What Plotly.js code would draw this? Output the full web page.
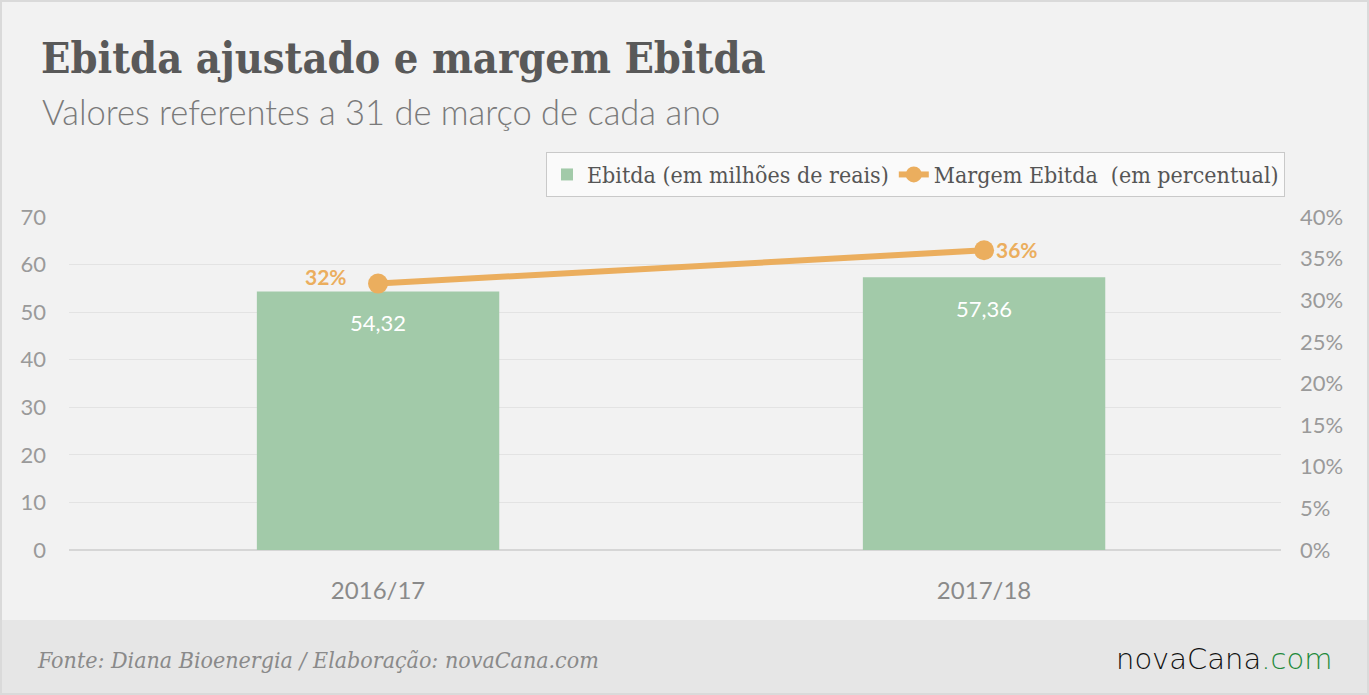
<!DOCTYPE html>
<html>
<head>
<meta charset="utf-8">
<script src="https://cdn.plot.ly/plotly-3.0.1.min.js"></script>
<style>
html,body{margin:0;padding:0;background:#f2f2f2;}
#chart{width:1369px;height:695px;}
</style>
</head>
<body>
<div id="chart"></div>
<script>
// ---- data ----
const categories = ['2016/17', '2017/18'];
const ebitda = [54.32, 57.36];          // milhões de reais
const margem = [32, 36];                // %
const ebitdaName = 'Ebitda (em milhões de reais)';
const margemName = 'Margem Ebitda  (em percentual)';
const titleText = 'Ebitda ajustado e margem Ebitda';
const subtitleText = 'Valores referentes a 31 de março de cada ano';
const sourceText = 'Fonte: Diana Bioenergia / Elaboração: novaCana.com';

// ---- geometry helpers (pixels -> paper) ----
const L = 69, R = 1281, T = 217, B = 550;
const px = x => (x - L) / (R - L);
const py = y => (B - y) / (B - T);

const barColor = '#a2caa9';
const lineColor = '#ebae5e';

const traces = [
  {
    type: 'bar', x: categories, y: ebitda, name: ebitdaName,
    marker: {color: barColor}, width: 0.4, hoverinfo: 'none'
  },
  {
    type: 'scatter', mode: 'lines+markers', x: categories, y: margem, yaxis: 'y2',
    name: margemName, line: {color: lineColor, width: 6},
    marker: {color: lineColor, size: 20}, hoverinfo: 'none'
  }
];

const annotations = [
  {text: titleText, xref: 'paper', yref: 'paper', x: px(39), y: py(58), xanchor: 'left', yanchor: 'middle',
   showarrow: false, font: {family: 'DejaVu Serif Condensed, DejaVu Serif', size: 43, color: '#595959', weight: 700}},
  {text: subtitleText, xref: 'paper', yref: 'paper', x: px(40), y: py(111), xanchor: 'left', yanchor: 'middle',
   showarrow: false, font: {family: 'Lato', size: 34.5, color: '#7a7a7a', weight: 300}},
  {text: '<i>' + sourceText + '</i>', xref: 'paper', yref: 'paper', x: px(35), y: py(660), xanchor: 'left', yanchor: 'middle',
   showarrow: false, font: {family: 'DejaVu Serif Condensed, DejaVu Serif', size: 23, color: '#8a8a8a'}},
  {text: 'novaCana<span style="fill:#1f8a3c">.com</span>', xref: 'paper', yref: 'paper', x: px(1334), y: py(659), xanchor: 'right', yanchor: 'middle',
   showarrow: false, font: {family: 'DejaVu Sans', size: 29, color: '#111111', weight: 200}}
];

// bar value labels
categories.forEach((c, i) => {
  annotations.push({
    text: ebitda[i].toFixed(2).replace('.', ','), x: c, y: ebitda[i], xref: 'x', yref: 'y',
    yanchor: 'middle', yshift: -31, showarrow: false,
    font: {family: 'Lato', size: 22, color: '#ffffff'}
  });
});
// line value labels
const lblShift = [[-52, 7], [33, 1]];
categories.forEach((c, i) => {
  annotations.push({
    text: margem[i] + '%', x: c, y: margem[i], xref: 'x', yref: 'y2',
    xanchor: 'center', yanchor: 'middle', xshift: lblShift[i][0], yshift: lblShift[i][1], showarrow: false,
    font: {family: 'Lato', size: 21, color: lineColor, weight: 700}
  });
});

const layout = {
  width: 1369, height: 695,
  paper_bgcolor: '#f2f2f2', plot_bgcolor: '#f2f2f2',
  margin: {l: L, r: 1369 - R, t: T, b: 695 - B, pad: 0},
  separators: ',.',
  showlegend: true,
  legend: {
    orientation: 'h', x: px(1285), xanchor: 'right', y: py(152), yanchor: 'top',
    bgcolor: '#fafafa', bordercolor: '#c9c9c9', borderwidth: 1,
    font: {family: 'DejaVu Serif Condensed, DejaVu Serif', size: 23, color: '#555555'},
    itemwidth: 30, tracegroupgap: 0
  },
  xaxis: {
    type: 'category', range: [-0.51, 1.49], showgrid: false, zeroline: false, showline: false,
    ticks: '', tickfont: {family: 'Lato', size: 24, color: '#8a8a8a'}, ticklabelstandoff: 24, fixedrange: true
  },
  yaxis: {
    range: [0, 70], dtick: 10, showgrid: true, gridcolor: '#e3e3e3', gridwidth: 1,
    zeroline: true, zerolinecolor: '#d6d6d6', zerolinewidth: 2, showline: false, ticks: '',
    tickfont: {family: 'Lato', size: 22, color: '#9a9a9a'}, ticklabelstandoff: 22, fixedrange: true
  },
  yaxis2: {
    overlaying: 'y', side: 'right', range: [0, 40], dtick: 5, ticksuffix: '%',
    showgrid: false, zeroline: false, showline: false, ticks: '',
    tickfont: {family: 'Lato', size: 22, color: '#9a9a9a'}, ticklabelstandoff: 18, fixedrange: true
  },
  shapes: [
    {type: 'rect', xref: 'paper', yref: 'paper', x0: px(0), x1: px(1369), y0: py(620), y1: py(695),
     fillcolor: '#e6e6e6', line: {width: 0}, layer: 'below'},
    {type: 'rect', xref: 'paper', yref: 'paper', x0: px(1), x1: px(1368), y0: py(1), y1: py(694),
     fillcolor: 'rgba(0,0,0,0)', line: {color: '#dadada', width: 2}, layer: 'above'}
  ],
  annotations: annotations
};

Plotly.newPlot('chart', traces, layout, {displayModeBar: false, staticPlot: true});
</script>
</body>
</html>
